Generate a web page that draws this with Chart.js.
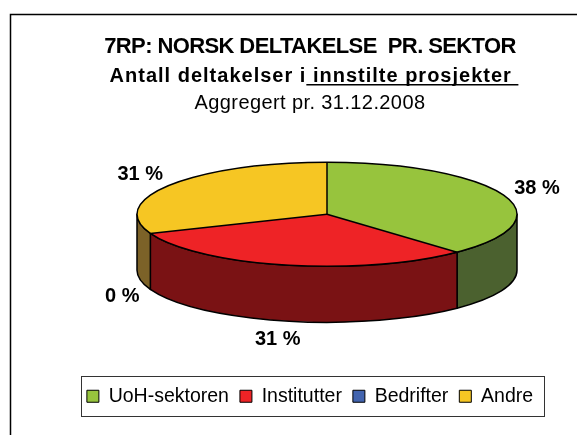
<!DOCTYPE html>
<html>
<head>
<meta charset="utf-8">
<script src="https://cdn.jsdelivr.net/npm/chart.js@4.4.0/dist/chart.umd.min.js"></script>
<style>
html, body { margin: 0; padding: 0; background: #fff; overflow: hidden; }
canvas { display: block; }
</style>
</head>
<body>
<canvas id="pie" width="620" height="450"></canvas>
<script>
// data
var sectors = ["UoH-sektoren", "Institutter", "Bedrifter", "Andre"];
var shares = [38, 31, 0, 31];
var titleLines = [
    "7RP: NORSK DELTAKELSE  PR. SEKTOR",
    "Antall deltakelser i innstilte prosjekter ",
    "Aggregert pr. 31.12.2008"
];

// style
var topColors = ["#97C43D", "#EE2326", "#4264AF", "#F6C623"];
var sideColors = ["#4B612F", "#7A1214", "#2A3F70", "#7C6228"];
var font = '"Liberation Sans", Arial, sans-serif';
var rx = 190, tilt = 52 / 190, depth = 56, shiftX = 17;
var labelRx = 203, labelRy = 61;

function pieGeo(chart) {
    var arc = chart.getDatasetMeta(0).data[0];
    return {
        cx: arc.x + shiftX, cy: arc.y - depth / 2,
        rx: rx, ry: rx * tilt,
        r: arc.outerRadius, x0: arc.x, y0: arc.y
    };
}

var pie3d = {
    id: 'pie3d',
    beforeDraw: function(chart) {
        var ctx = chart.ctx;
        ctx.save();
        ctx.fillStyle = '#fff';
        ctx.fillRect(0, 0, chart.width, chart.height);
        ctx.lineWidth = 1.5;
        ctx.strokeStyle = '#000';
        ctx.strokeRect(10.5, 14.5, 598, 430);

        ctx.fillStyle = '#000';
        ctx.textAlign = 'center';
        ctx.textBaseline = 'alphabetic';

        ctx.font = 'bold 22px ' + font;
        ctx.letterSpacing = '-0.6px';
        ctx.fillText(titleLines[0], 310, 53);

        ctx.font = 'bold 20px ' + font;
        ctx.letterSpacing = '1px';
        ctx.fillText(titleLines[1], 314, 82);
        var full = ctx.measureText(titleLines[1]).width;
        var pre = ctx.measureText("Antall deltakelser i").width;
        var x0 = 314 - full / 2;
        ctx.fillRect(x0 + pre, 84, full - pre, 1.5);

        ctx.font = '20px ' + font;
        ctx.letterSpacing = '0.4px';
        ctx.fillText(titleLines[2], 310, 109);
        ctx.restore();
    },
    beforeDatasetsDraw: function(chart) {
        var ctx = chart.ctx, g = pieGeo(chart);
        var arcs = chart.getDatasetMeta(0).data;
        ctx.save();
        ctx.lineWidth = 1.5;
        ctx.strokeStyle = '#000';
        ctx.lineJoin = 'round';
        arcs.forEach(function(el, i) {
            var a = Math.max(el.startAngle, 0), b = Math.min(el.endAngle, Math.PI);
            if (b - a <= 0.0001) return;
            ctx.beginPath();
            ctx.ellipse(g.cx, g.cy, g.rx, g.ry, 0, a, b);
            ctx.lineTo(g.cx + g.rx * Math.cos(b), g.cy + depth + g.ry * Math.sin(b));
            ctx.ellipse(g.cx, g.cy + depth, g.rx, g.ry, 0, b, a, true);
            ctx.closePath();
            ctx.fillStyle = sideColors[i];
            ctx.fill();
            ctx.stroke();
        });
        ctx.restore();
        // squash the library's pie into the top face
        ctx.save();
        ctx.translate(g.cx, g.cy);
        ctx.scale(g.rx / g.r, g.ry / g.r);
        ctx.translate(-g.x0, -g.y0);
    },
    afterDatasetsDraw: function(chart) {
        var ctx = chart.ctx;
        ctx.restore();
        var g = pieGeo(chart);
        var arcs = chart.getDatasetMeta(0).data;
        ctx.save();
        ctx.lineWidth = 1.5;
        ctx.strokeStyle = '#000';
        ctx.beginPath();
        ctx.ellipse(g.cx, g.cy, g.rx, g.ry, 0, 0, Math.PI * 2);
        ctx.stroke();
        arcs.forEach(function(el) {
            if (el.endAngle - el.startAngle < 0.0001) return;
            ctx.beginPath();
            ctx.moveTo(g.cx, g.cy);
            ctx.lineTo(g.cx + g.rx * Math.cos(el.startAngle), g.cy + g.ry * Math.sin(el.startAngle));
            ctx.stroke();
        });

        // percent labels
        var total = shares.reduce(function(s, v) { return s + v; }, 0);
        ctx.font = 'bold 20px ' + font;
        ctx.fillStyle = '#000';
        ctx.textAlign = 'center';
        ctx.textBaseline = 'middle';
        arcs.forEach(function(el, i) {
            var a = (el.startAngle + el.endAngle) / 2;
            var c = Math.cos(a), s = Math.sin(a);
            var txt = Math.round(shares[i] / total * 100) + ' %';
            var w = ctx.measureText(txt).width;
            var x = g.cx + labelRx * c + w / 2 * c;
            var y = g.cy + labelRy * s + 10 * s + (s > 0 ? depth : 0);
            ctx.fillText(txt, x, y);
        });
        ctx.restore();
    },
    afterDraw: function(chart) {
        var ctx = chart.ctx, lg = chart.legend;
        var hb = lg.legendHitBoxes;
        var first = hb[0], last = hb[hb.length - 1];
        ctx.save();
        ctx.lineWidth = 1;
        ctx.strokeStyle = '#333';
        ctx.strokeRect(Math.round(first.left - 6) + 0.5, Math.round(lg.top) + 0.5,
            Math.round(last.left + last.width + 11 - first.left + 6), Math.round(lg.bottom - lg.top - 1));
        ctx.restore();
    }
};

new Chart(document.getElementById("pie"), {
    type: 'pie',
    data: {
        labels: sectors,
        datasets: [{
            data: shares,
            backgroundColor: topColors,
            borderWidth: 0,
            clip: false
        }]
    },
    options: {
        responsive: false,
        animation: false,
        events: [],
        layout: { padding: { top: 109, bottom: 34, left: 10, right: 10 } },
        plugins: {
            tooltip: { enabled: false },
            legend: {
                position: 'bottom',
                labels: {
                    color: '#000',
                    font: { family: font, size: 19.5 },
                    boxWidth: 12,
                    boxHeight: 12,
                    padding: 11,
                    generateLabels: function(chart) {
                        var items = Chart.overrides.pie.plugins.legend.labels.generateLabels(chart);
                        items.forEach(function(it) {
                            it.strokeStyle = '#000';
                            it.lineWidth = 1;
                        });
                        return items;
                    }
                }
            }
        }
    },
    plugins: [pie3d]
});
</script>
</body>
</html>
